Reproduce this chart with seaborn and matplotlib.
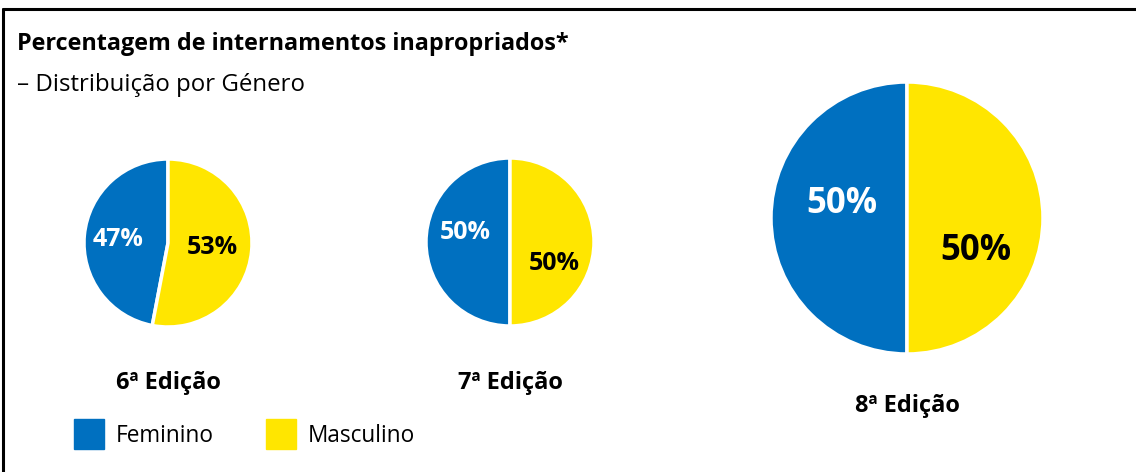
import matplotlib
matplotlib.use("Agg")
import matplotlib.pyplot as plt
from matplotlib.lines import Line2D
import seaborn as sns

sns.set_theme(style="white")
plt.rcParams['font.family'] = ['Open Sans', 'DejaVu Sans']
plt.rcParams['text.color'] = 'black'

# data
editions = ["6ª Edição", "7ª Edição", "8ª Edição"]
genders = ["Feminino", "Masculino"]
feminino = [47, 50, 50]
masculino = [53, 50, 50]

colors = ["#0070C0", "#FFE600"]
text_colors = ["white", "black"]

W, H = 1136, 472
fig = plt.figure(figsize=(W / 100, H / 100), dpi=100)

# pie layout in pixels: centre x, centre y, radius, label y, pct size
layout = [
    (168, 243, 84, 383, 18),
    (510, 242, 84, 383, 18),
    (907, 218, 136, 406, 25),
]
# label offsets (fraction of radius) for each wedge
pct_pos = [
    [(-0.60, 0.04), (0.53, -0.05)],
    [(-0.53, 0.11), (0.53, -0.25)],
    [(-0.48, 0.10), (0.51, -0.24)],
]

for i, (cx, cy, r, ly, fs) in enumerate(layout):
    ax = fig.add_axes([(cx - r) / W, (H - cy - r) / H, 2 * r / W, 2 * r / H])
    vals = [feminino[i], masculino[i]]
    wedges, _ = ax.pie(vals, colors=colors, startangle=90, counterclock=True,
                       radius=1, wedgeprops=dict(edgecolor="white", linewidth=2.5))
    for j, v in enumerate(vals):
        px, py = pct_pos[i][j]
        ax.text(px, py, f"{v}%", ha="center", va="center", color=text_colors[j],
                fontsize=fs, fontweight="bold")
    ax.set_xlim(-1, 1)
    ax.set_ylim(-1, 1)
    ax.set_aspect("equal")
    ax.axis("off")
    fig.text(cx / W, 1 - ly / H, editions[i], ha="center", va="center",
             fontsize=17, fontweight="bold")

fig.text(17 / W, 1 - 44 / H, "Percentagem de internamentos inapropriados*",
         ha="left", va="center", fontsize=16.8, fontweight="bold")
fig.text(17 / W, 1 - 85 / H, "– Distribuição por Género",
         ha="left", va="center", fontsize=17.3)

# frame lines (top and left)
fig.add_artist(Line2D([3.5 / W, 1], [1 - 8.5 / H, 1 - 8.5 / H], color="black", lw=2.2))
fig.add_artist(Line2D([3.5 / W, 3.5 / W], [0, 1 - 8.5 / H], color="black", lw=2.2))

handles = [Line2D([], [], marker="s", linestyle="", markersize=22,
                  markerfacecolor=c, markeredgecolor=c) for c in colors]
fig.legend(handles, genders, loc="center left", bbox_to_anchor=(55 / W, 1 - 436 / H),
           ncol=2, frameon=False, fontsize=16.3, handletextpad=0.57, columnspacing=2.4,
           handlelength=1.2)

fig.savefig("out.png", dpi=100)
